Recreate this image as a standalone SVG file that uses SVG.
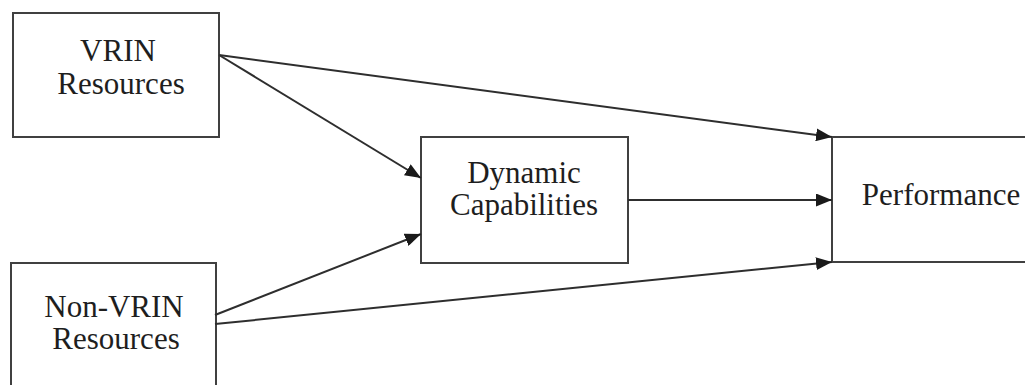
<svg xmlns="http://www.w3.org/2000/svg" width="1025" height="385" viewBox="0 0 1025 385">
  <style>
    .box { fill: #ffffff; stroke: #404040; stroke-width: 2; }
    .lbl { font-family: "Liberation Serif", "Times New Roman", serif; font-size: 31px; fill: #1e1e1e; text-anchor: middle; }
    .edge { fill: none; stroke: #2e2e2e; stroke-width: 2; }
  </style>
  <defs>
    <marker id="arrow" markerUnits="userSpaceOnUse" markerWidth="17" markerHeight="13" refX="16" refY="6.5" orient="auto">
      <path d="M0,0 L16,6.5 L0,13 Z" fill="#1a1a1a"/>
    </marker>
  </defs>
  <rect width="1025" height="385" fill="#ffffff"/>

  <g id="vrin-resources">
    <rect class="box" x="13" y="13" width="206" height="124"/>
    <text class="lbl" x="118" y="61">VRIN</text>
    <text class="lbl" x="121" y="94">Resources</text>
  </g>

  <g id="non-vrin-resources">
    <rect class="box" x="11" y="263" width="205" height="140"/>
    <text class="lbl" x="114" y="317">Non-VRIN</text>
    <text class="lbl" x="116" y="349">Resources</text>
  </g>

  <g id="dynamic-capabilities">
    <rect class="box" x="421" y="137" width="207" height="126"/>
    <text class="lbl" x="524" y="183">Dynamic</text>
    <text class="lbl" x="524" y="215">Capabilities</text>
  </g>

  <g id="performance">
    <rect class="box" x="832" y="137" width="220" height="125"/>
    <text class="lbl" x="941" y="205">Performance</text>
  </g>

  <g id="connectors">
    <line class="edge" x1="219" y1="55" x2="832" y2="137" marker-end="url(#arrow)"/>
    <line class="edge" x1="219" y1="55" x2="421" y2="178" marker-end="url(#arrow)"/>
    <line class="edge" x1="215" y1="315" x2="421" y2="234" marker-end="url(#arrow)"/>
    <line class="edge" x1="215" y1="324" x2="832" y2="262" marker-end="url(#arrow)"/>
    <line class="edge" x1="628" y1="200" x2="832" y2="200" marker-end="url(#arrow)"/>
  </g>
</svg>
